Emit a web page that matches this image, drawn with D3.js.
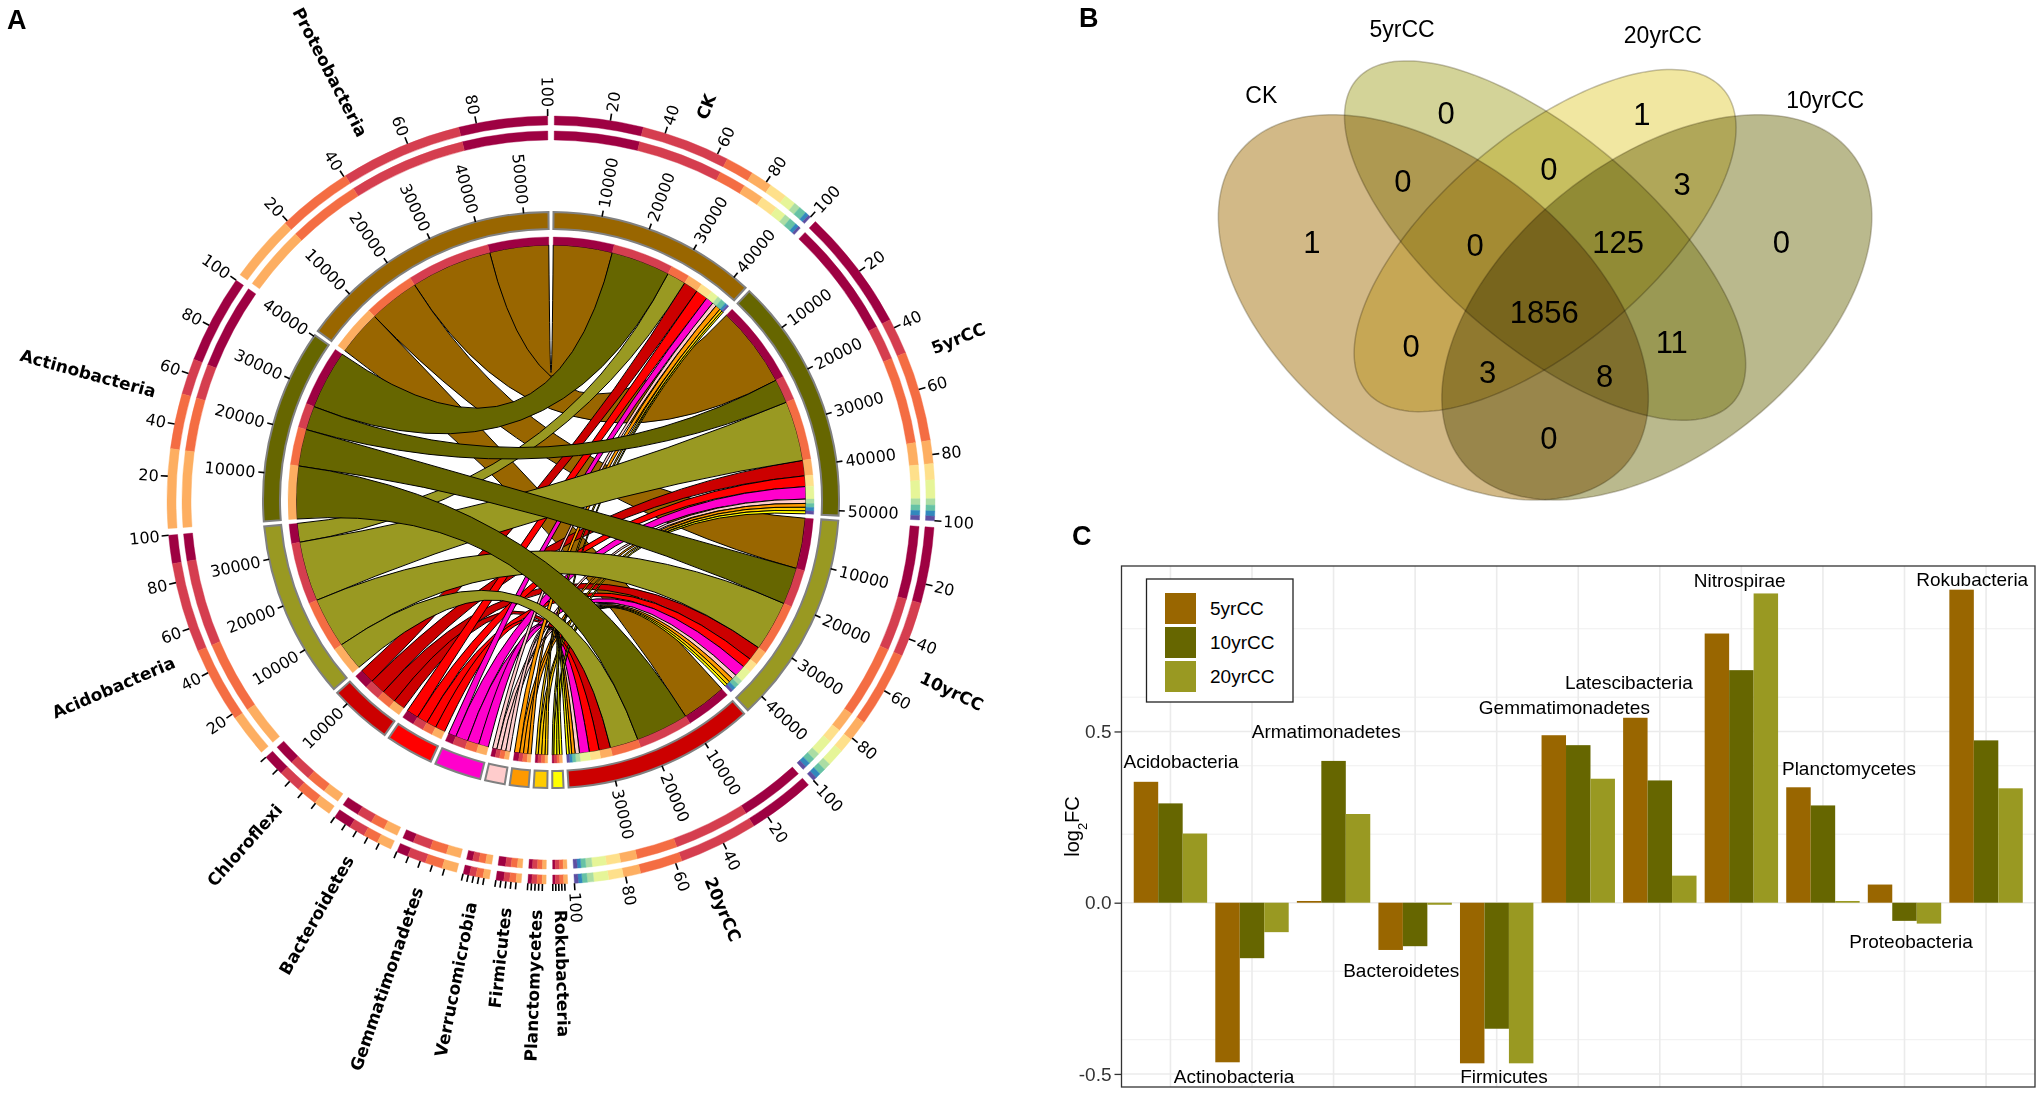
<!DOCTYPE html>
<html>
<head>
<meta charset="utf-8">
<title>Chord, Venn and log2FC panels</title>
<script src="https://d3js.org/d3.v7.min.js"></script>
<style>
  body { margin: 0; background: #fff; }
  svg { display: block; font-family: "Liberation Sans", Arial, sans-serif; }
  .chord text { font-family: "DejaVu Sans", sans-serif; }
</style>
</head>
<body>
<svg id="fig" width="2036" height="1093"></svg>
<script>
// ---------- panel A: reads of each phylum in each treatment ----------
var groups = ["CK", "5yrCC", "10yrCC", "20yrCC"];
var phyla = ["Proteobacteria", "Actinobacteria", "Acidobacteria", "Chloroflexi", "Bacteroidetes",
             "Gemmatimonadetes", "Verrucomicrobia", "Firmicutes", "Planctomycetes", "Rokubacteria"];
var readsCK   = [13800, 13800,  4400, 3400, 2800, 1800, 1000, 1200, 600, 400];
var reads5yr  = [19000,  5600, 14000, 3600, 2500, 2900, 1000,  900, 800, 700];
var reads10yr = [11800,  8600, 11800, 3300, 2300, 2700, 1100, 1000, 800, 600];
var reads20yr = [10500, 12300,  6600, 2700, 2300, 2300, 1000,  800, 600, 600];

// ---------- panel B: shared OTUs (membership order CK, 5yrCC, 20yrCC, 10yrCC) ----------
var vennSets = ["CK", "5yrCC", "20yrCC", "10yrCC"];
var vennKeys = ["1000", "0100", "0010", "0001", "1100", "0110", "0011", "1110",
                "0111", "1111", "1010", "1011", "1101", "0101", "1001"];
var vennCounts = [1, 0, 1, 0, 0, 0, 3, 0, 125, 1856, 0, 3, 8, 11, 0];

// ---------- panel C: log2 fold change against CK ----------
var taxa = ["Acidobacteria", "Actinobacteria", "Armatimonadetes", "Bacteroidetes", "Firmicutes",
            "Gemmatimonadetes", "Latescibacteria", "Nitrospirae", "Planctomycetes", "Proteobacteria", "Rokubacteria"];
var fc5yr  = [0.353, -0.466, 0.005, -0.138, -0.469, 0.489, 0.540, 0.786, 0.337,  0.053, 0.914];
var fc10yr = [0.290, -0.162, 0.414, -0.127, -0.368, 0.460, 0.357, 0.679, 0.284, -0.053, 0.474];
var fc20yr = [0.202, -0.086, 0.259, -0.006, -0.469, 0.362, 0.079, 0.903, 0.005, -0.061, 0.334];
// where the (repelled) taxon labels sit: value on the y axis, shift in category steps
var labelAt    = [0.412, -0.506, 0.502, -0.196, -0.506, 0.571, 0.644, 0.941, 0.392, -0.112, 0.944];
var labelNudge = [0.13, -0.22, -0.09, -0.17, 0.09, -0.17, -0.38, -0.02, 0.32, 0.08, -0.17];

var svg = d3.select("#fig");

// panel letters
svg.selectAll("text.letter").data([["A", 7, 29], ["B", 1079, 27], ["C", 1072, 545]]).join("text")
  .attr("class", "letter").attr("x", d => d[1]).attr("y", d => d[2])
  .style("font-size", "27px").style("font-weight", "bold").text(d => d[0]);

// =====================================================================
// Panel A - chord diagram
// =====================================================================
var spectral = ["#9E0142", "#D53E4F", "#F46D43", "#FDAE61", "#FEE08B", "#E6F598", "#ABDDA4", "#66C2A5", "#3288BD", "#5E4FA2"];
var groupFill = ["#996600", "#666600", "#999922", "#CC0000"];
var phylumFill = ["#996600", "#666600", "#999922", "#CC0000", "#FF0000", "#FF00CC", "#FFCCCC", "#FF9900", "#FFCC00", "#FFFF00"];
var reads = [readsCK, reads5yr, reads10yr, reads20yr];

var R = { chord: 255, inner: [255, 263], track: [271, 288], ring2: [360, 369], ring1: [375, 384] };

var gA = svg.append("g").attr("class", "chord").attr("transform", "translate(551,500)");

var sectors = [];
groups.forEach(function(g, i) {
  sectors.push({ name: g, kind: "g", i: i, fill: groupFill[i], total: d3.sum(reads[i]) });
});
d3.range(phyla.length - 1, -1, -1).forEach(function(p) {
  sectors.push({ name: phyla[p], kind: "p", i: p, fill: phylumFill[p],
                 total: d3.sum(reads, function(r) { return r[p]; }) });
});

var gapDeg = 1.0;
var degPerRead = (360 - gapDeg * sectors.length) / d3.sum(sectors, s => s.total);
var a0 = gapDeg / 2;
sectors.forEach(function(s) {
  s.start = a0;
  s.end = a0 + s.total * degPerRead;
  a0 = s.end + gapDeg;
  s.scale = d3.scaleLinear().domain([0, s.total]).range([s.start, s.end]);
});
var groupSec = {}, phylumSec = {};
sectors.forEach(function(s) { if (s.kind == "g") groupSec[s.i] = s; else phylumSec[s.i] = s; });

var links = [];
phyla.forEach(function(p, pi) {
  groups.forEach(function(g, gi) { links.push({ p: pi, g: gi, v: reads[gi][pi] }); });
});
groups.forEach(function(g, gi) {
  var off = 0;
  links.filter(l => l.g == gi).sort((x, y) => x.p - y.p).forEach(function(l) {
    l.gEnd = [groupSec[gi].scale(off), groupSec[gi].scale(off + l.v)];
    off += l.v;
  });
});
phyla.forEach(function(p, pi) {
  var off = 0;
  links.filter(l => l.p == pi).sort((x, y) => y.g - x.g).forEach(function(l) {
    l.pEnd = [phylumSec[pi].scale(off), phylumSec[pi].scale(off + l.v)];
    off += l.v;
  });
});

function rad(d) { return d * Math.PI / 180; }
function polar(r, d) { return [r * Math.sin(rad(d)), -r * Math.cos(rad(d))]; }
function radial(sel, deg, r) {
  var right = ((deg % 360) + 360) % 360 < 180;
  sel.attr("transform", "rotate(" + (deg - 90) + ")translate(" + r + ",0)" + (right ? "" : "rotate(180)"))
     .attr("text-anchor", right ? "start" : "end")
     .attr("dy", "0.36em");
}

// ribbons
var ribbon = d3.ribbon().radius(R.chord);
var drawOrder = [0, 3, 4, 5, 6, 7, 8, 9, 2, 1];
var ordered = [];
drawOrder.forEach(function(pi) { links.filter(l => l.p == pi).forEach(l => ordered.push(l)); });
gA.append("g").selectAll("path").data(ordered).join("path")
  .attr("d", function(l) {
    return ribbon({ source: { startAngle: rad(l.pEnd[0]), endAngle: rad(l.pEnd[1]) },
                    target: { startAngle: rad(l.gEnd[0]), endAngle: rad(l.gEnd[1]) } });
  })
  .attr("fill", l => phylumFill[l.p])
  .attr("stroke", "#000").attr("stroke-width", 1);

// coloured segment rings (share of each link)
var segs = [];
links.forEach(function(l) {
  segs.push({ s: l.gEnd[0], e: l.gEnd[1], c: spectral[l.p] });
  segs.push({ s: l.pEnd[0], e: l.pEnd[1], c: spectral[l.g] });
});
[R.inner, R.ring2, R.ring1].forEach(function(rr) {
  var arc = d3.arc().innerRadius(rr[0]).outerRadius(rr[1]);
  gA.append("g").selectAll("path").data(segs).join("path")
    .attr("d", d => arc({ startAngle: rad(d.s), endAngle: rad(d.e) }))
    .attr("fill", d => d.c).attr("stroke", d => d.c).attr("stroke-width", 0.4);
});

// sector track
var trackArc = d3.arc().innerRadius(R.track[0]).outerRadius(R.track[1]);
gA.append("g").selectAll("path").data(sectors).join("path")
  .attr("d", s => trackArc({ startAngle: rad(s.start), endAngle: rad(s.end) }))
  .attr("fill", s => s.fill).attr("stroke", "#808080").attr("stroke-width", 2);

// read-count axis on the track
var axTicks = [];
sectors.forEach(function(s) {
  for (var v = 10000; v <= s.total; v += 10000) axTicks.push({ a: s.scale(v), v: v });
});
var axG = gA.append("g");
axG.selectAll("line").data(axTicks).join("line")
  .attr("x1", d => polar(R.track[1], d.a)[0]).attr("y1", d => polar(R.track[1], d.a)[1])
  .attr("x2", d => polar(R.track[1] + 6, d.a)[0]).attr("y2", d => polar(R.track[1] + 6, d.a)[1])
  .attr("stroke", "#000").attr("stroke-width", 1.6);
axG.selectAll("text").data(axTicks).join("text")
  .each(function(d) { radial(d3.select(this), d.a, R.track[1] + 9); })
  .style("font-size", "16px").text(d => d.v);

// percentage axis on the outer ring
var pTicks = [];
sectors.forEach(function(s) {
  [20, 40, 60, 80, 100].forEach(function(p) {
    pTicks.push({ a: s.start + (s.end - s.start) * p / 100, p: p, big: (s.end - s.start) > 20 });
  });
});
var pG = gA.append("g");
pG.selectAll("line").data(pTicks).join("line")
  .attr("x1", d => polar(R.ring1[1], d.a)[0]).attr("y1", d => polar(R.ring1[1], d.a)[1])
  .attr("x2", d => polar(R.ring1[1] + 7, d.a)[0]).attr("y2", d => polar(R.ring1[1] + 7, d.a)[1])
  .attr("stroke", "#000").attr("stroke-width", 1.6);
pG.selectAll("text").data(pTicks.filter(d => d.big)).join("text")
  .each(function(d) { radial(d3.select(this), d.a, R.ring1[1] + 9); })
  .style("font-size", "16px").text(d => d.p);

// sector names
gA.append("g").selectAll("text").data(sectors).join("text")
  .each(function(s) { radial(d3.select(this), (s.start + s.end) / 2, 410); })
  .style("font-size", "17px").style("font-weight", "bold").text(s => s.name);

// =====================================================================
// Panel B - four-set Venn diagram (VennDiagram-style quad layout)
// =====================================================================
var ellipses = [
  { u: 0.35, v: 0.47, a: 0.35, b: 0.21, rot: 135, fill: "#D2B987" },  // CK
  { u: 0.50, v: 0.57, a: 0.35, b: 0.15, rot: 135, fill: "#D3D398" },  // 5yrCC
  { u: 0.50, v: 0.57, a: 0.33, b: 0.15, rot: 45,  fill: "#F1E7A1" },  // 20yrCC
  { u: 0.65, v: 0.47, a: 0.35, b: 0.21, rot: 45,  fill: "#BAB98D" }   // 10yrCC
];
// label spots of the quad layout, one per region key above
var regionSpot = [[0.187, 0.568], [0.367, 0.761], [0.630, 0.760], [0.817, 0.568], [0.309, 0.659],
                  [0.505, 0.677], [0.684, 0.655], [0.406, 0.563], [0.598, 0.568], [0.499, 0.463],
                  [0.320, 0.413], [0.423, 0.374], [0.580, 0.368], [0.670, 0.418], [0.505, 0.274]];
var catSpot = [[0.119, 0.789], [0.308, 0.887], [0.658, 0.878], [0.876, 0.781]];

var xV = d3.scaleLinear().domain([0, 1]).range([1172.6, 1917.6]);
var yV = d3.scaleLinear().domain([0, 1]).range([621, -46.4]);

var gB = svg.append("g");
var line = d3.line().x(d => xV(d[0])).y(d => yV(d[1])).curve(d3.curveLinearClosed);
gB.selectAll("path").data(ellipses).join("path")
  .attr("d", function(e) {
    var t = rad(e.rot);
    return line(d3.range(0, 360, 2).map(function(k) {
      var w = rad(k);
      return [e.u + e.a * Math.cos(w) * Math.cos(t) - e.b * Math.sin(w) * Math.sin(t),
              e.v + e.a * Math.cos(w) * Math.sin(t) + e.b * Math.sin(w) * Math.cos(t)];
    }));
  })
  .attr("fill", e => e.fill)
  .attr("stroke", "#5a5030").attr("stroke-opacity", 0.35).attr("stroke-width", 1.5)
  .style("mix-blend-mode", "multiply");

gB.selectAll("text.count").data(vennKeys).join("text")
  .attr("class", "count")
  .attr("x", (k, i) => xV(regionSpot[i][0]))
  .attr("y", (k, i) => yV(regionSpot[i][1]))
  .attr("text-anchor", "middle").attr("dy", "0.36em")
  .style("font-size", "31px")
  .text((k, i) => vennCounts[i]);

gB.selectAll("text.cat").data(vennSets).join("text")
  .attr("class", "cat")
  .attr("x", (d, i) => xV(catSpot[i][0])).attr("y", (d, i) => yV(catSpot[i][1]))
  .attr("text-anchor", "middle").attr("dy", "0.36em")
  .style("font-size", "23px").text(d => d);

// =====================================================================
// Panel C - grouped bars of log2FC
// =====================================================================
var series = ["5yrCC", "10yrCC", "20yrCC"];
var seriesFill = ["#996600", "#666600", "#999922"];
var fcs = [fc5yr, fc10yr, fc20yr];
var pL = 1121.5, pR = 2035, pT = 566, pB = 1087;

var xC = d3.scalePoint().domain(taxa).range([pL, pR]).padding(0.6);
var step = xC.step();
var xS = d3.scaleBand().domain(series).range([-0.45 * step, 0.45 * step]);
var allFc = d3.merge(fcs);
var lo = d3.min(allFc), hi = d3.max(allFc), pad = (hi - lo) * 0.05;
var yC = d3.scaleLinear().domain([lo - pad, hi + pad]).range([pB, pT]);

var gC = svg.append("g");
var major = yC.ticks(3);
var minor = yC.ticks(6).filter(t => major.indexOf(t) < 0);
gC.append("g").selectAll("line").data(minor).join("line")
  .attr("x1", pL).attr("x2", pR).attr("y1", d => yC(d)).attr("y2", d => yC(d))
  .attr("stroke", "#EBEBEB").attr("stroke-width", 0.8);
gC.append("g").selectAll("line").data(major).join("line")
  .attr("x1", pL).attr("x2", pR).attr("y1", d => yC(d)).attr("y2", d => yC(d))
  .attr("stroke", "#EBEBEB").attr("stroke-width", 1.6);
gC.append("g").selectAll("line").data(taxa).join("line")
  .attr("x1", d => xC(d)).attr("x2", d => xC(d)).attr("y1", pT).attr("y2", pB)
  .attr("stroke", "#EBEBEB").attr("stroke-width", 1.6);

var bars = [];
taxa.forEach(function(t, i) {
  series.forEach(function(s, j) { bars.push({ t: t, s: s, j: j, v: fcs[j][i] }); });
});
gC.append("g").selectAll("rect").data(bars).join("rect")
  .attr("x", d => xC(d.t) + xS(d.s))
  .attr("width", xS.bandwidth())
  .attr("y", d => yC(Math.max(0, d.v)))
  .attr("height", d => Math.abs(yC(d.v) - yC(0)))
  .attr("fill", d => seriesFill[d.j]);

gC.append("g").selectAll("text").data(taxa).join("text")
  .attr("x", (d, i) => xC(d) + labelNudge[i] * step)
  .attr("y", (d, i) => yC(labelAt[i]))
  .attr("text-anchor", "middle").attr("dy", "0.36em")
  .style("font-size", "19px").text(d => d);

gC.append("rect").attr("x", pL).attr("y", pT).attr("width", pR - pL).attr("height", pB - pT)
  .attr("fill", "none").attr("stroke", "#333").attr("stroke-width", 1.3);

var yAxis = gC.append("g").attr("transform", "translate(" + pL + ",0)")
  .call(d3.axisLeft(yC).tickValues(major).tickSize(7).tickPadding(3)
        .tickFormat(d => d3.format(".1f")(d).replace("\u2212", "-")));
yAxis.select(".domain").remove();
yAxis.selectAll("line").attr("stroke", "#333").attr("stroke-width", 1.3);
yAxis.selectAll("text").attr("fill", "#333").style("font-size", "19px")
  .style("font-family", "'Liberation Sans', Arial, sans-serif");

var yTitle = gC.append("text").attr("transform", "translate(1079," + ((pT + pB) / 2) + ")rotate(-90)")
  .attr("text-anchor", "middle").style("font-size", "20px");
yTitle.append("tspan").text("log");
yTitle.append("tspan").attr("baseline-shift", "sub").style("font-size", "13px").text("2");
yTitle.append("tspan").text("FC");

// legend
var leg = gC.append("g");
leg.append("rect").attr("x", 1146.5).attr("y", 579).attr("width", 146.5).attr("height", 123)
  .attr("fill", "#fff").attr("stroke", "#222").attr("stroke-width", 1.3);
series.forEach(function(s, j) {
  leg.append("rect").attr("x", 1165).attr("y", 593 + j * 34).attr("width", 31).attr("height", 31)
    .attr("fill", seriesFill[j]);
  leg.append("text").attr("x", 1210).attr("y", 608.5 + j * 34).attr("dy", "0.36em")
    .style("font-size", "19px").text(s);
});
</script>
</body>
</html>
